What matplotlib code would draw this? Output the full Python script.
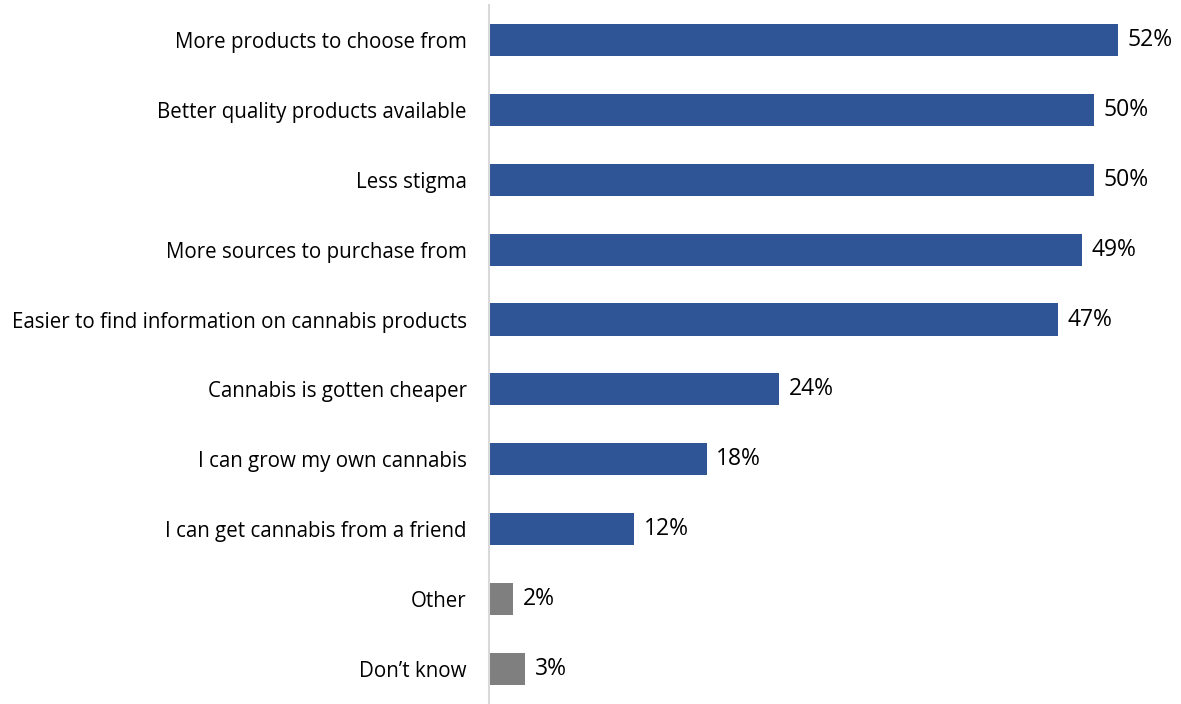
import matplotlib
matplotlib.use("Agg")
import matplotlib.pyplot as plt

# survey answers, top to bottom
labels = [
    "More products to choose from",
    "Better quality products available",
    "Less stigma",
    "More sources to purchase from",
    "Easier to find information on cannabis products",
    "Cannabis is gotten cheaper",
    "I can grow my own cannabis",
    "I can get cannabis from a friend",
    "Other",
    "Don\u2019t know",
]
values = [52, 50, 50, 49, 47, 24, 18, 12, 2, 3]
is_other = [False] * 8 + [True, True]

BLUE = "#2F5597"
GREY = "#7F7F7F"

plt.rcParams["font.family"] = ["Open Sans", "DejaVu Sans"]

fig = plt.figure(figsize=(11.81, 7.04), dpi=100)
ax = fig.add_axes([0.414, 0.0, 0.584, 0.993])

ypos = list(range(len(labels)))
colors = [GREY if o else BLUE for o in is_other]
ax.barh(ypos, values, height=0.46, color=colors, edgecolor="none")

for y, v in zip(ypos, values):
    ax.text(v + 0.8, y, f"{v}%", va="center", ha="left", fontsize=16.5, color="#000000")

ax.set_ylim(len(labels) - 0.5, -0.5)
ax.set_xlim(0, 57)
ax.set_yticks(ypos)
ax.set_yticklabels(labels, fontsize=14.8)
ax.tick_params(axis="y", length=0, pad=16)
ax.set_xticks([])

for s in ["top", "right", "bottom"]:
    ax.spines[s].set_visible(False)
ax.spines["left"].set_color("#D9D9D9")
ax.spines["left"].set_linewidth(1.5)

fig.savefig("out.png", dpi=100)
